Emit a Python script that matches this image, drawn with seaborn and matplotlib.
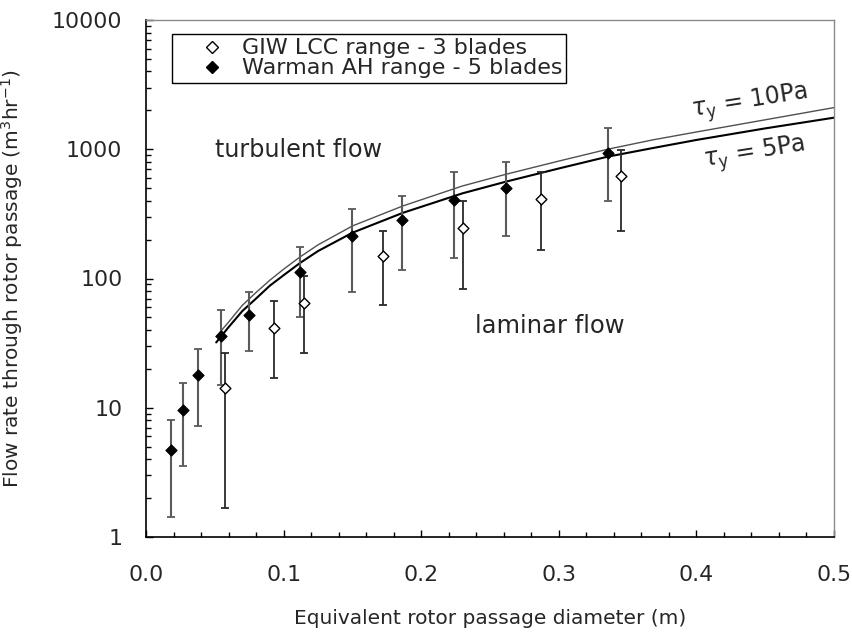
import matplotlib
matplotlib.use("Agg")
import matplotlib.pyplot as plt
import seaborn as sns
import pandas as pd
import numpy as np
from matplotlib.lines import Line2D
from matplotlib.ticker import LogLocator, MultipleLocator, FixedLocator, NullFormatter

# ---- data ----
giw_x = [0.0574, 0.0929, 0.1151, 0.1725, 0.2302, 0.2874, 0.3453]
giw_y = [14.1, 41.6, 65.0, 150.0, 244.0, 412.0, 617.0]
giw_lo = [1.67, 16.9, 26.7, 62.7, 82.5, 166.0, 233.0]
giw_hi = [26.7, 66.6, 104.5, 233.0, 395.0, 667.0, 987.0]

wam_x = [0.0185, 0.0272, 0.0377, 0.0547, 0.0747, 0.1122, 0.1494, 0.1864, 0.2241, 0.2613, 0.3358]
wam_y = [4.71, 9.6, 17.9, 35.9, 52.2, 111.7, 213.0, 284.0, 405.0, 501.0, 929.0]
wam_lo = [1.44, 3.56, 7.18, 15.0, 27.5, 50.7, 79.0, 115.7, 143.0, 214.0, 398.0]
wam_hi = [8.0, 15.6, 28.5, 57.4, 79.0, 174.0, 343.0, 437.0, 670.0, 797.0, 1468.0]

curve_x = [0.051, 0.06, 0.07, 0.08, 0.09, 0.1, 0.112, 0.125, 0.15, 0.1866, 0.23, 0.2615, 0.3, 0.3355, 0.368, 0.4, 0.45, 0.5]
curve_5pa = [32, 42, 56, 70, 88, 106, 132, 163, 226, 322, 456, 561, 710, 876, 1020, 1180, 1450, 1755]
curve_10pa = [35.5, 46, 62, 78, 97, 118, 147, 182, 255, 364, 520, 640, 810, 1000, 1180, 1360, 1690, 2100]

legend_labels = ["GIW LCC range - 3 blades", "Warman AH range - 5 blades"]
x_ticks = [0.0, 0.1, 0.2, 0.3, 0.4, 0.5]
y_ticks = [1, 10, 100, 1000, 10000]

sns.set_style("ticks")
plt.rcParams["font.family"] = ["DejaVu Sans"]
plt.rcParams["mathtext.fontset"] = "dejavusans"

fig = plt.figure(figsize=(8.52, 6.34), dpi=100)
ax = fig.add_axes([146 / 852, 1 - 537 / 634, (834 - 146) / 852, (537 - 20) / 634])

curves = pd.DataFrame({
    "x": curve_x * 2,
    "y": curve_10pa + curve_5pa,
    "tau": ["10Pa"] * len(curve_x) + ["5Pa"] * len(curve_x),
})
sns.lineplot(data=curves[curves.tau == "10Pa"], x="x", y="y", ax=ax, color="#505050", lw=1.0, legend=False)
sns.lineplot(data=curves[curves.tau == "5Pa"], x="x", y="y", ax=ax, color="black", lw=1.5, legend=False)

# error bars
wy = np.array(wam_y)
gy = np.array(giw_y)
ax.errorbar(wam_x, wam_y, yerr=[wy - np.array(wam_lo), np.array(wam_hi) - wy], fmt="none",
            ecolor="#5a5a5a", elinewidth=1.5, capsize=3, capthick=1.3, zorder=2)
ax.errorbar(giw_x, giw_y, yerr=[gy - np.array(giw_lo), np.array(giw_hi) - gy], fmt="none",
            ecolor="#2a2a2a", elinewidth=1.3, capsize=3, capthick=1.3, zorder=2)

pts = pd.DataFrame({
    "x": giw_x + wam_x,
    "y": giw_y + wam_y,
    "series": [legend_labels[0]] * len(giw_x) + [legend_labels[1]] * len(wam_x),
})
sns.scatterplot(data=pts[pts.series == legend_labels[0]], x="x", y="y", ax=ax, marker="D", s=30,
                facecolor="white", edgecolor="black", linewidth=1.0, zorder=4, legend=False)
sns.scatterplot(data=pts[pts.series == legend_labels[1]], x="x", y="y", ax=ax, marker="D", s=32,
                color="black", edgecolor="black", linewidth=0.8, zorder=4, legend=False)

ax.set_yscale("log")
ax.set_xlim(0, 0.5)
ax.set_ylim(1, 10000)

ax.xaxis.set_major_locator(FixedLocator(x_ticks))
ax.xaxis.set_minor_locator(MultipleLocator(0.02))
ax.set_xticklabels([f"{t:.1f}" for t in x_ticks])
ax.yaxis.set_major_locator(FixedLocator(y_ticks))
ax.set_yticklabels([str(t) for t in y_ticks])
ax.yaxis.set_minor_locator(LogLocator(base=10, subs=np.arange(2, 10)))
ax.yaxis.set_minor_formatter(NullFormatter())

ax.tick_params(axis="both", which="major", direction="in", length=5, width=1, labelsize=15.8, color="black")
ax.tick_params(axis="both", which="minor", direction="in", length=3.5, width=1, color="black")
ax.tick_params(axis="x", which="major", pad=20)
ax.tick_params(axis="y", which="major", pad=17)

for s in ["left", "bottom"]:
    ax.spines[s].set_color("black")
    ax.spines[s].set_linewidth(1.2)
for s in ["top", "right"]:
    ax.spines[s].set_color("#8a8a8a")
    ax.spines[s].set_linewidth(1.0)

ax.set_xlabel("Equivalent rotor passage diameter (m)", fontsize=14.5)
ax.set_ylabel("Flow rate through rotor passage (m$^{3}$hr$^{-1}$)", fontsize=14.5)
ax.xaxis.set_label_coords(0.5, -0.14)
ax.yaxis.set_label_coords(-0.176, 0.5)

ax.text(0.0504, 871, "turbulent flow", fontsize=17.2, ha="left", va="baseline")
ax.text(0.2389, 37.9, "laminar flow", fontsize=17.5, ha="left", va="baseline")
ax.text(0.397, 1786, r"$\tau_{\rm y}$ = 10Pa", fontsize=17, ha="left", va="baseline", rotation=9,
        rotation_mode="anchor")
ax.text(0.4056, 733, r"$\tau_{\rm y}$ = 5Pa", fontsize=17, ha="left", va="baseline", rotation=9,
        rotation_mode="anchor")

handles = [
    Line2D([], [], marker="D", ls="none", markerfacecolor="white", markeredgecolor="black", markersize=6),
    Line2D([], [], marker="D", ls="none", markerfacecolor="black", markeredgecolor="black", markersize=6.3),
]
leg = ax.legend(handles, legend_labels, loc="upper left", bbox_to_anchor=(0.0374, 0.973), fontsize=16,
                frameon=True, fancybox=False, edgecolor="black", framealpha=1, handlelength=3.23,
                handletextpad=-0.29, borderpad=0.2, labelspacing=0.0, borderaxespad=0)
leg.get_frame().set_linewidth(1.0)

fig.savefig("out.png", dpi=100)
